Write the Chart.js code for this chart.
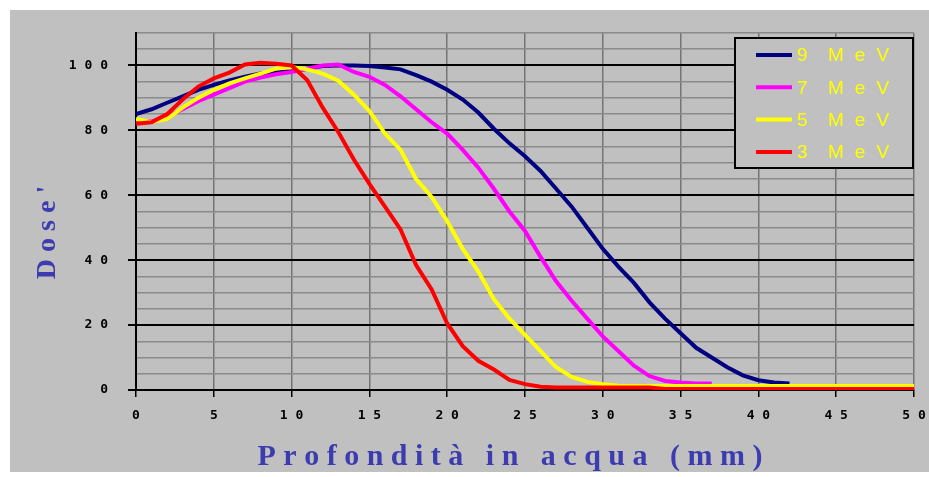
<!DOCTYPE html>
<html>
<head>
<meta charset="utf-8">
<title>Dose in acqua</title>
<script src="https://cdn.jsdelivr.net/npm/chart.js@4.4.1/dist/chart.umd.min.js"></script>
<style>
body { margin: 0; background: #ffffff; }
#box { position: absolute; left: 10px; top: 10px; width: 919px; height: 462px; background: #c0c0c0; }
</style>
</head>
<body>
<div id="box"><canvas id="myChart"></canvas></div>
<script>
// depth in water (mm), one reading per mm
var depth = [0, 1, 2, 3, 4, 5, 6, 7, 8, 9, 10, 11, 12, 13, 14, 15, 16, 17, 18, 19, 20,
    21, 22, 23, 24, 25, 26, 27, 28, 29, 30, 31, 32, 33, 34, 35, 36, 37, 38, 39, 40,
    41, 42, 43, 44, 45, 46, 47, 48, 49, 50];

// relative dose (%) for each beam energy
var dose9 = [85, 86.5, 88.5, 90.5, 92.5, 94, 95.4, 96.5, 97.5, 98, 98.2, 99, 99.8, 100, 100, 99.8, 99.4, 98.8, 97, 95, 92.5,
    89.5, 85.5, 80.5, 76, 72, 67.5, 62, 56.5, 50, 43.5, 38, 33, 27, 22, 17.5, 13, 10, 7, 4.5, 3,
    2.3, 2, null, null, null, null, null, null, null, null];
var dose7 = [83, 82.7, 84.3, 86.5, 89, 91, 93, 95, 96.3, 97.3, 98, 99, 100, 100.3, 98, 96.5, 94, 90.5, 86.5, 82.5, 79,
    74, 68.5, 62, 55, 49, 41, 33.5, 27.5, 22, 16.5, 12, 7.5, 4.3, 2.8, 2.3, 2, 2, null, null, null,
    null, null, null, null, null, null, null, null, null, null];
var dose5 = [83.5, 82.5, 83.5, 87, 90, 92.5, 94.5, 96, 97.5, 99, 99.5, 98.8, 97.5, 95.3, 91, 86, 79, 74, 65, 59.5, 52,
    43.5, 36.5, 28, 22, 17, 12, 7, 4, 2.5, 1.8, 1.3, 1.2, 1.2, 1.2, 1.2, 1.2, 1.2, 1.2, 1.2, 1.2,
    1.2, 1.2, 1.2, 1.2, 1.2, 1.2, 1.2, 1.2, 1.2, 1.2];
var dose3 = [82, 82.5, 85, 89.5, 93.5, 96, 97.8, 100.3, 100.8, 100.5, 100, 95.5, 87, 79.5, 71, 63.5, 56.5, 49.5, 38.5, 31, 20.5,
    13.5, 9, 6.3, 3.1, 1.8, 1, 0.8, 0.8, 0.8, 0.8, 0.8, 0.8, 0.8, 0.3, 0.3, 0.3, 0.3, 0.3, 0.3, 0.3,
    0.3, 0.3, 0.3, 0.3, 0.3, 0.3, 0.3, 0.3, 0.3, 0.3];

var energies = ['9 MeV', '7 MeV', '5 MeV', '3 MeV'];
var series = [dose9, dose7, dose5, dose3];
var lineColors = ['#000080', '#ff00ff', '#ffff00', '#ff0000'];

// the old chart prints its numbers with a space between every digit
function spaced(text) {
    return String(text).split('').join(' ');
}

function makeDatasets() {
    var arr = [];
    for (var i = 0; i < series.length; i++) {
        var pts = [];
        for (var j = 0; j < depth.length; j++) {
            pts.push({ x: depth[j], y: series[i][j] });
        }
        arr.push({
            label: energies[i],
            data: pts,
            borderColor: lineColors[i],
            backgroundColor: lineColors[i],
            borderWidth: 4,
            pointRadius: 0,
            tension: 0,
            fill: false,
            spanGaps: false,
            order: series.length - i  // red on top, navy underneath
        });
    }
    return arr;
}

// boxed legend in the top right corner, yellow labels
var legendBox = {
    id: 'legendBox',
    afterDraw: function (chart) {
        var ctx = chart.ctx;
        var bx = 725, by = 28, bw = 178, bh = 130;
        ctx.save();
        ctx.fillStyle = '#c0c0c0';
        ctx.fillRect(bx, by, bw, bh);
        ctx.strokeStyle = '#000000';
        ctx.lineWidth = 2;
        ctx.strokeRect(bx, by, bw, bh);
        ctx.font = '19px "Liberation Sans", Arial, sans-serif';
        ctx.textBaseline = 'middle';
        ctx.letterSpacing = '11px';
        var items = chart.data.datasets;
        for (var i = 0; i < items.length; i++) {
            var ly = by + 17 + i * 32.3;
            ctx.strokeStyle = items[i].borderColor;
            ctx.lineWidth = 4;
            ctx.beginPath();
            ctx.moveTo(bx + 21, ly);
            ctx.lineTo(bx + 57, ly);
            ctx.stroke();
            // number and unit are set apart like the original
            var parts = items[i].label.split(' ');
            ctx.fillStyle = '#ffff00';
            ctx.fillText(parts[0], bx + 62, ly + 1);
            ctx.fillText(parts[1], bx + 93, ly + 1);
        }
        ctx.restore();
    }
};

var tickFont = { family: '"DejaVu Sans Mono", monospace', size: 13, weight: 'bold' };
var titleFont = { family: '"Liberation Serif", "Times New Roman", serif', size: 30, weight: 'bold', lineHeight: 1 };

new Chart(
    document.querySelector('#myChart'),
    {
        type: 'line',
        data: { datasets: makeDatasets() },
        plugins: [legendBox],
        options: {
            responsive: true,
            maintainAspectRatio: false,
            animation: false,
            layout: { padding: { top: 23, right: 15, left: 0, bottom: 0 } },
            plugins: {
                legend: { display: false },
                tooltip: { enabled: false }
            },
            scales: {
                x: {
                    type: 'linear',
                    min: 0,
                    max: 50,
                    afterFit: function (scale) {
                        scale.height = 82;
                        scale.paddingLeft = 0;
                        scale.paddingRight = 0;
                    },
                    ticks: {
                        stepSize: 5,
                        color: '#000000',
                        font: tickFont,
                        padding: 11,
                        maxRotation: 0,
                        autoSkip: false,
                        callback: function (v) { return spaced(v); }
                    },
                    grid: { color: '#747474', lineWidth: 1.5, tickColor: '#000000', tickLength: 7 },
                    border: { color: '#000000', width: 2 },
                    title: {
                        display: true,
                        text: 'P r o f o n d i t à   i n   a c q u a   ( m m )    ',
                        color: '#3c3cb0',
                        font: titleFont,
                        padding: { top: 0, bottom: 0 }
                    }
                },
                y: {
                    min: 0,
                    max: 110,
                    afterFit: function (scale) {
                        scale.width = 126;
                        scale.paddingTop = 0;
                        scale.paddingBottom = 0;
                    },
                    ticks: {
                        stepSize: 5,
                        color: '#000000',
                        font: tickFont,
                        padding: 20,
                        autoSkip: false,
                        callback: function (v) { return v % 20 === 0 ? spaced(v) : ''; }
                    },
                    grid: {
                        color: function (c) { return c.tick && c.tick.value % 20 === 0 ? '#000000' : '#8a8a8a'; },
                        lineWidth: function (c) { return c.tick && c.tick.value % 20 === 0 ? 2 : 1.5; },
                        tickColor: function (c) { return c.tick && c.tick.value % 20 === 0 ? '#000000' : 'rgba(0,0,0,0)'; },
                        tickLength: 8
                    },
                    border: { color: '#000000', width: 2 },
                    title: {
                        display: true,
                        text: "D o s e '      ",
                        color: '#3c3cb0',
                        font: { family: titleFont.family, size: 28, weight: 'bold', lineHeight: 1 },
                        padding: { top: 24, bottom: 0 }
                    }
                }
            }
        }
    }
);
</script>
</body>
</html>
